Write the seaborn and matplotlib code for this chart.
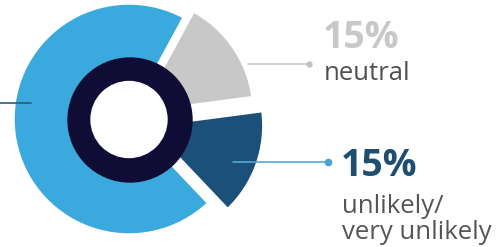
import matplotlib
matplotlib.use("Agg")
import matplotlib.pyplot as plt
import seaborn as sns
from matplotlib.patches import Circle

# data
labels = ["likely/very likely", "unlikely/\nvery unlikely", "neutral"]
shares = [70, 15, 15]
pct_labels = ["70%", "15%", "15%"]

sns.set_style("white")
plt.rcParams["font.family"] = ["Open Sans", "DejaVu Sans"]

colors = ["#3aa9dd", "#1b5178", "#c8c8c8"]
W, H = 498, 247


def Y(y):
    # image pixel row -> data y
    return H - y


fig = plt.figure(figsize=(4.98, 2.47), dpi=100)
ax = fig.add_axes([0, 0, 1, 1])

# explode is in data units here (1 unit = 1 px)
cx, cy = 129, Y(119)
ax.pie(shares, colors=colors, startangle=61.5, counterclock=True,
       explode=[0, 20, 11], center=(cx, cy), radius=116,
       wedgeprops=dict(edgecolor="white", linewidth=2.5))

# inner rings
ax.add_patch(Circle((130, Y(120)), 62, color="#0f0c35", zorder=5))
ax.add_patch(Circle((129, Y(119.5)), 38, color="white", zorder=6))

# leader lines
ax.plot([0, 31], [Y(103), Y(103)], color="#2d5a78", lw=1.2, zorder=7)
ax.plot([248, 309], [Y(64), Y(64)], color="#c8c8c8", lw=1.2, zorder=7)
ax.plot([309], [Y(64)], "o", color="#c0c0c0", ms=3.5, zorder=8)
ax.plot([233, 328], [Y(162), Y(162)], color="#5aa8d6", lw=1.2, zorder=7)
ax.plot([328], [Y(162)], "o", color="#4aa3d6", ms=4.5, zorder=8)

# labels
ax.text(323, Y(48), pct_labels[2], color="#c8c8c8", fontsize=27,
        fontweight="bold", va="baseline", ha="left")
ax.text(324, Y(80), labels[2], color="#505050", fontsize=18.5,
        va="baseline", ha="left")
ax.text(341, Y(176), pct_labels[1], color="#1e4e70", fontsize=27,
        fontweight="bold", va="baseline", ha="left")
ax.text(342, Y(213), "unlikely/", color="#555555", fontsize=18.5,
        va="baseline", ha="left")
ax.text(342, Y(239), "very unlikely", color="#555555", fontsize=18.5,
        va="baseline", ha="left")

ax.set_xlim(0, W)
ax.set_ylim(0, H)
ax.set_aspect("equal")
ax.axis("off")

fig.savefig("out.png", dpi=100, facecolor="white")
plt.close(fig)
